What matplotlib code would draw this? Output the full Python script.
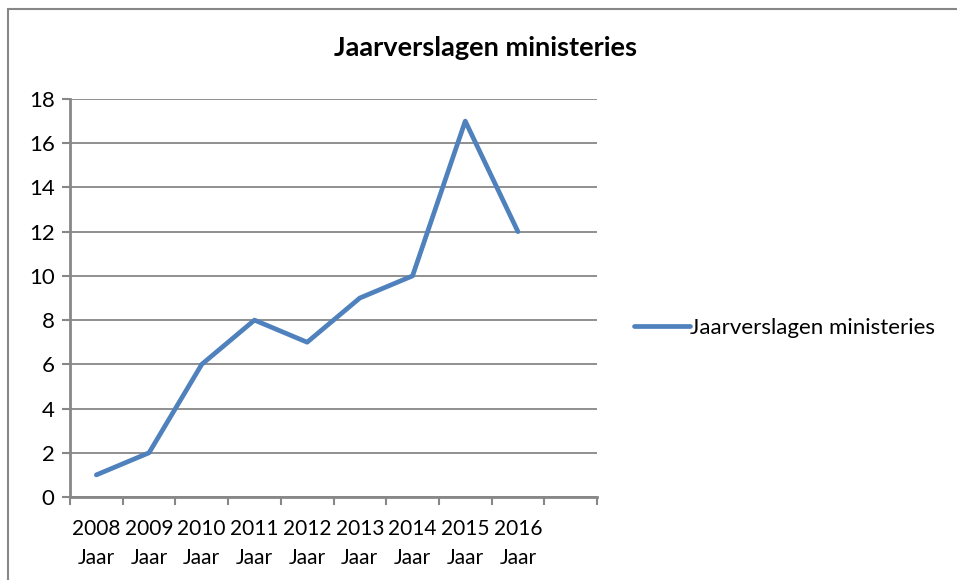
import numpy as np
import matplotlib
matplotlib.use('Agg')
import matplotlib.pyplot as plt
from matplotlib.patches import Rectangle

plt.rcParams['font.family'] = ['Lato', 'DejaVu Sans']

years = ['2008', '2009', '2010', '2011', '2012', '2013', '2014', '2015', '2016']
values = [1, 2, 6, 8, 7, 9, 10, 17, 12]
series_name = 'Jaarverslagen ministeries'
n_slots = 10  # excel laat een lege categorie over aan het eind

line_col = '#4F81BD'
grey = '#878787'

fig = plt.figure(figsize=(9.57, 5.8), dpi=100)
ax = fig.add_axes([70 / 957, 1 - 497 / 580, 527 / 957, 398 / 580])

x = np.arange(len(values))
ax.plot(x, values, color=line_col, lw=3.4, solid_capstyle='round',
        solid_joinstyle='round', label=series_name)

ax.set_xlim(-0.5, n_slots - 0.5)
ax.set_ylim(0, 18)
ax.set_yticks(np.arange(0, 19, 2))
ax.yaxis.grid(True, color=grey, lw=1.3)
ax.set_axisbelow(True)

ax.set_xticks(np.arange(-0.5, n_slots, 1))
ax.set_xticklabels([])
ax.set_xticks(x, minor=True)
ax.set_xticklabels([y + '\nJaar' for y in years], minor=True)
ax.tick_params(axis='x', which='minor', length=0, pad=16, labelsize=15)
ax.tick_params(axis='x', which='major', length=6, width=1.5, color=grey)
ax.tick_params(axis='y', length=6, width=1.5, color=grey, labelsize=16, pad=5)
for lbl in ax.get_xticklabels(minor=True):
    lbl.set_linespacing(1.55)

for s in ['top', 'right']:
    ax.spines[s].set_visible(False)
for s in ['left', 'bottom']:
    ax.spines[s].set_color(grey)
    ax.spines[s].set_linewidth(2)

fig.text(486 / 957, 1 - 48 / 580, series_name, ha='center', va='center',
         fontsize=19.5, fontweight='bold')

fig.legend(loc='center left', bbox_to_anchor=(634 / 957, 1 - 328 / 580),
           frameon=False, fontsize=16, handlelength=2.5, handletextpad=0.0,
           borderpad=0, borderaxespad=0)

# rand van het grafiekgebied
fig.add_artist(Rectangle((8 / 957, -0.1), 1.1, 1.1 - 9 / 580, transform=fig.transFigure,
                         fill=False, edgecolor=grey, lw=1.5))

fig.savefig('out.png', dpi=100)
